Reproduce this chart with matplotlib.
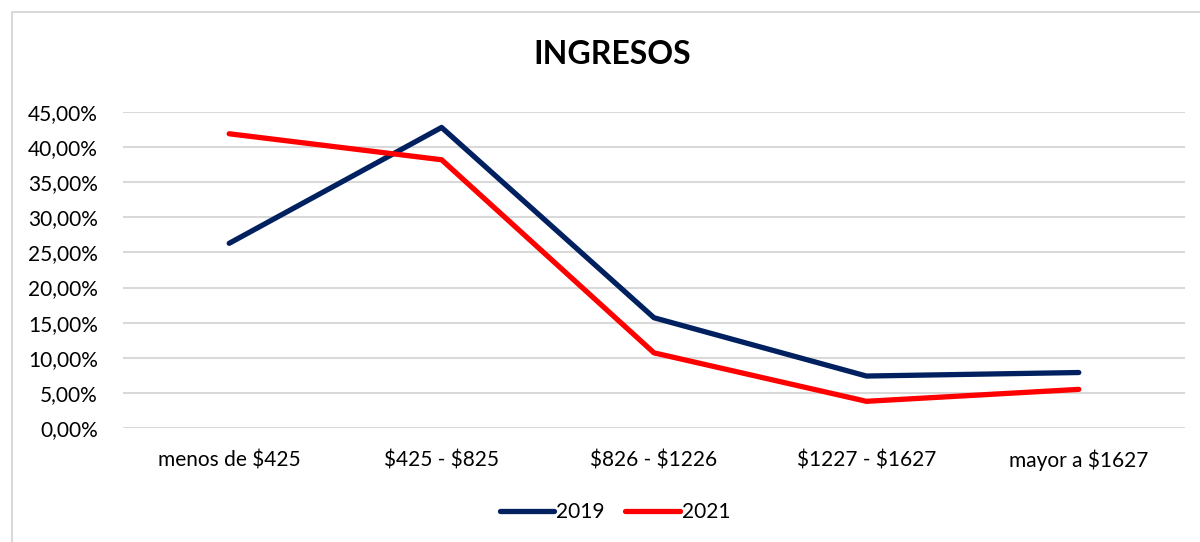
import matplotlib
matplotlib.use("Agg")
import matplotlib.pyplot as plt
from matplotlib.patches import Rectangle
from matplotlib.ticker import FuncFormatter

categories = ["menos de $425", "$425 - $825", "$826 - $1226", "$1227 - $1627", "mayor a $1627"]
series_2019 = [26.3, 42.8, 15.7, 7.4, 7.9]
series_2021 = [41.9, 38.2, 10.7, 3.8, 5.5]
yticks = [0, 5, 10, 15, 20, 25, 30, 35, 40, 45]

plt.rcParams['font.family'] = ['Lato', 'DejaVu Sans']

W, H = 1200, 542
fig = plt.figure(figsize=(W / 100, H / 100), dpi=100)
fig.patch.set_facecolor('white')

# chart frame
fig.patches.append(Rectangle((12 / W, -0.1), 1.2, 1.1 - 12 / H, transform=fig.transFigure,
                             fill=False, edgecolor='#D9D9D9', linewidth=1.5))

ax = fig.add_axes([123 / W, 1 - 428 / H, (1185 - 123) / W, (428 - 112) / H])
x = list(range(len(categories)))
l1, = ax.plot(x, series_2019, color='#002060', linewidth=3.8, solid_capstyle='round', label='2019', zorder=3)
l2, = ax.plot(x, series_2021, color='#FF0000', linewidth=3.8, solid_capstyle='round', label='2021', zorder=3)

ax.set_xlim(-0.5, len(categories) - 0.5)
ax.set_ylim(0, 45)
ax.set_yticks(yticks)
ax.yaxis.set_major_formatter(FuncFormatter(lambda v, p: f"{v:.2f}".replace('.', ',') + '%'))
ax.set_xticks(x)
ax.set_xticklabels([c.replace('$', r'\$') for c in categories], va='baseline')
ax.grid(axis='y', color='#D9D9D9', linewidth=1.5, zorder=0)
for s in ax.spines.values():
    s.set_visible(False)
ax.tick_params(axis='both', length=0, labelsize=15, colors='#000000')
ax.tick_params(axis='x', pad=28)
ax.tick_params(axis='y', pad=18)

fig.text(612 / W, 1 - 55 / H, "INGRESOS", ha='center', va='center', fontsize=23, fontweight='bold')

fig.legend(handles=[l1, l2], loc='center', bbox_to_anchor=(615 / W, 1 - 512 / H), ncol=2,
           frameon=False, fontsize=15, handlelength=2.6, handletextpad=0.1, columnspacing=1.0)

fig.savefig("out.png", dpi=100)
